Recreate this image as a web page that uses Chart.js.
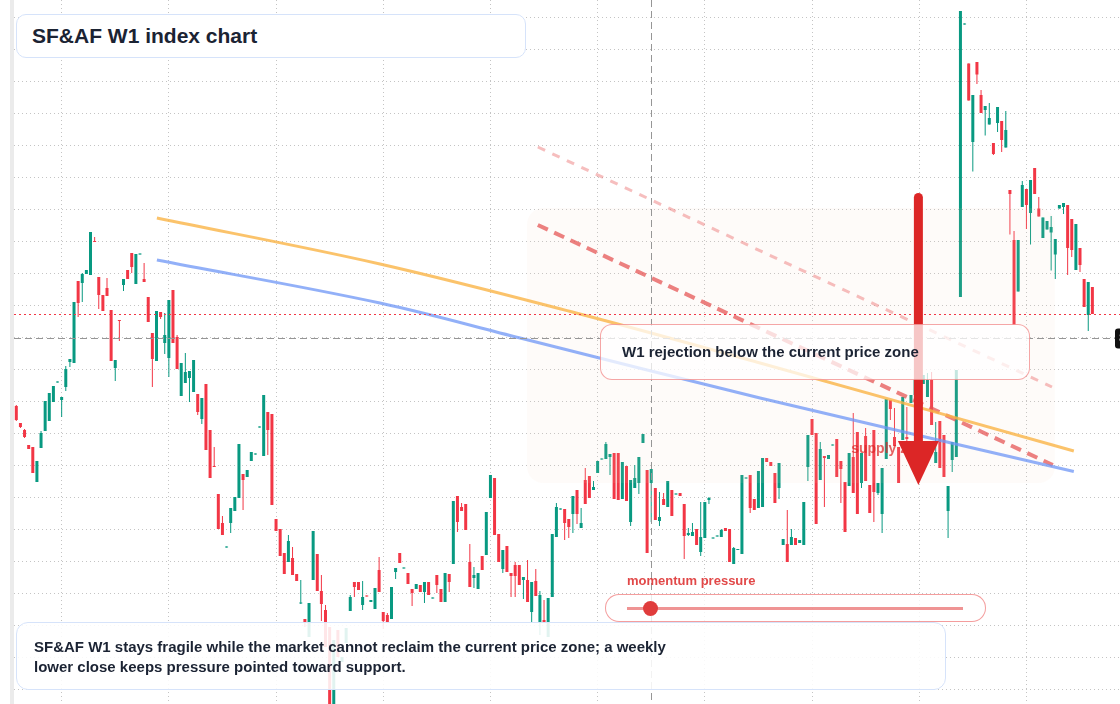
<!DOCTYPE html>
<html lang="en">
<head>
<meta charset="UTF-8">
<title>SF&amp;AF W1 index chart</title>
<script src="https://cdn.jsdelivr.net/npm/chart.js@4"></script>
<style>
  html, body { margin: 0; padding: 0; background: #fff; overflow: hidden; }
  #wrap { position: relative; width: 1120px; height: 704px; font-family: "Liberation Sans", Arial, sans-serif; color: #1b2333; }
  #chart { position: absolute; left: 0; top: 0; }
  .box { position: absolute; box-sizing: border-box; font-weight: bold; }
  #title { left: 16px; top: 14px; width: 510px; height: 44px; border: 1.5px solid #d6e3fa; border-radius: 10px;
           background: #fff; font-size: 21px; line-height: 41px; padding-left: 15px; }
  #note { left: 600px; top: 324px; width: 430px; height: 56px; border: 1.5px solid rgba(236, 92, 92, 0.55); border-radius: 12px;
          background: rgba(255, 255, 255, 0.74); font-size: 15px; line-height: 53px; padding-left: 21px; }
  #caption { left: 16px; top: 622px; width: 930px; height: 68px; border: 1.5px solid #d6e3fa; border-radius: 12px;
             background: rgba(255, 255, 255, 0.88); font-size: 15px; line-height: 20px; padding: 14px 0 0 17px; }
  #momLabel { left: 627px; top: 573px; font-size: 13px; color: rgba(222, 52, 52, 0.9); }
  #momBox { left: 605px; top: 594px; width: 381px; height: 28px; border: 1.5px solid rgba(236, 92, 92, 0.6); border-radius: 14px;
            background: rgba(255, 255, 255, 0.8); }
  #momTrack { position: absolute; left: 21px; top: 11.5px; width: 336px; height: 3.5px; background: rgba(230, 90, 90, 0.65); }
  #momKnob { position: absolute; left: 37px; top: 5.5px; width: 15px; height: 15px; border-radius: 50%; background: #e03c3c; }
</style>
</head>
<body>
<div id="wrap">
  <canvas id="chart" width="1120" height="704"></canvas>
  <div class="box" id="title">SF&amp;AF W1 index chart</div>
  <div class="box" id="note">W1 rejection below the current price zone</div>
  <div class="box" id="momLabel">momentum pressure</div>
  <div class="box" id="momBox"><div id="momTrack"></div><div id="momKnob"></div></div>
  <div class="box" id="caption">SF&amp;AF W1 stays fragile while the market cannot reclaim the current price zone; a weekly<br>lower close keeps pressure pointed toward support.</div>
</div>

<script>
  // weekly candles, oldest first
  const open = [
    68.8, 65.4, 64.0, 61.0, 60.6, 53.6, 60.4, 63.8, 65.8, 69.6, 73.5, 70.0, 72.6, 77.6, 77.4, 93.8, 93.4, 95.2, 95.0, 101.8,
    94.6, 91.0, 92.4, 88.0, 76.4, 86.0, 93.0, 96.0, 99.4, 93.2, 99.1, 94.2, 90.6, 83.4, 77.8, 87.6, 81.4, 78.4, 92.0, 82.6,
    70.8, 73.4, 74.4, 71.6, 71.2, 66.2, 73.2, 64.0, 56.8, 51.2, 45.4, 40.5, 45.4, 47.8, 50.4, 55.2, 54.6, 57.8, 59.1, 64.5,
    58.8, 67.6, 67.2, 46.2, 44.2, 39.4, 37.6, 38.4, 35.2, 29.3, 26.2, 22.6, 34.0, 39.2, 31.8, 28.0, 24.6, 7.6, 24.0, 17.6,
    21.4, 27.8, 33.6, 33.6, 29.0, 30.8, 29.6, 28.2, 36.0, 27.6, 27.0, 26.2, 35.6, 39.4, 36.3, 35.4, 32.2, 32.2, 33.0, 31.6,
    33.6, 30.3, 35.0, 32.2, 29.6, 35.2, 37.2, 50.8, 48.6, 49.2, 37.6, 34.4, 32.2, 38.8, 39.0, 50.4, 54.4, 43.2, 36.2, 40.8,
    35.4, 37.0, 37.0, 34.0, 34.0, 27.6, 33.8, 25.6, 26.0, 22.6, 30.6, 42.6, 48.1, 48.2, 46.2, 47.2, 52.0, 44.4, 54.0, 54.8,
    52.0, 55.4, 58.1, 58.2, 58.6, 59.4, 59.4, 50.2, 56.8, 45.6, 52.4, 53.4, 61.4, 56.0, 53.4, 52.4, 45.8, 50.2, 48.6, 52.0,
    51.1, 51.4, 49.2, 43.0, 42.8, 44.2, 39.6, 42.4, 50.0, 42.3, 42.7, 42.6, 44.4, 44.2, 37.2, 40.0, 39.2, 54.3, 55.0, 50.2,
    48.4, 48.6, 58.4, 57.6, 55.4, 52.4, 41.0, 41.2, 41.0, 42.4, 41.4, 41.0, 56.6, 66.2, 63.4, 54.0, 58.8, 58.2, 60.9, 62.2,
    57.8, 53.6, 52.8, 58.6, 63.6, 53.4, 62.8, 53.0, 64.0, 51.4, 47.2, 58.2, 70.0, 62.6, 60.6, 62.0, 62.6, 69.4, 71.0, 75.0,
    73.2, 70.6, 74.0, 57.4, 65.8, 63.0, 47.8, 58.0, 58.6, 90.6, 145.1, 137.3, 121.6, 137.6, 131.0, 128.0, 125.1, 121.4, 125.4, 125.8,
    120.5, 112.0, 102.0, 91.7, 108.6, 112.2, 107.4, 116.4, 108.3, 102.4, 104.1, 103.5, 99.1, 108.3, 108.6, 109.0, 106.2, 96.0, 100.4, 94.2,
    87.0, 92.6
  ];
  const high = [
    69.0, 65.4, 64.2, 61.0, 60.6, 57.8, 63.8, 69.8, 71.4, 72.8, 73.6, 70.6, 76.8, 78.2, 89.6, 93.8, 95.4, 96.0, 103.6, 102.6,
    94.6, 91.0, 94.4, 88.0, 78.0, 86.0, 94.2, 96.0, 99.4, 99.2, 99.2, 97.4, 90.6, 83.4, 87.8, 87.6, 87.4, 90.0, 92.0, 83.0,
    77.4, 79.4, 75.8, 78.0, 71.2, 70.4, 73.2, 64.0, 60.6, 51.2, 46.8, 40.6, 48.4, 50.6, 61.2, 55.2, 56.0, 59.6, 59.2, 64.6,
    71.0, 67.6, 67.2, 46.2, 44.2, 39.4, 43.0, 40.6, 35.2, 34.0, 26.2, 29.4, 43.8, 39.2, 35.0, 29.0, 24.6, 22.0, 24.0, 18.6,
    24.4, 31.0, 33.6, 33.6, 33.8, 30.8, 30.0, 32.4, 38.6, 27.6, 27.4, 32.6, 36.4, 39.4, 36.4, 35.4, 32.2, 33.2, 33.0, 33.6,
    33.6, 30.4, 35.0, 32.2, 35.4, 35.2, 49.8, 50.8, 49.4, 49.2, 41.2, 36.6, 35.4, 38.8, 47.6, 55.0, 54.4, 43.2, 40.0, 40.8,
    35.4, 37.6, 37.0, 34.6, 38.0, 33.6, 36.2, 31.8, 30.0, 30.4, 43.2, 49.4, 48.2, 48.2, 46.2, 50.8, 52.0, 48.4, 56.4, 54.8,
    53.8, 57.8, 58.2, 61.6, 59.2, 59.4, 59.4, 57.6, 56.8, 54.0, 57.0, 58.6, 63.2, 56.0, 56.2, 52.4, 51.6, 51.4, 53.8, 52.0,
    51.2, 51.4, 49.2, 44.4, 45.4, 44.2, 49.6, 49.6, 50.6, 42.4, 42.8, 44.2, 44.4, 44.2, 40.6, 40.2, 55.0, 54.4, 55.0, 50.2,
    55.8, 58.4, 58.4, 57.6, 55.4, 57.4, 42.2, 48.0, 44.2, 42.4, 42.0, 49.6, 63.0, 66.2, 63.4, 61.6, 58.8, 59.0, 61.0, 62.2,
    57.8, 53.6, 59.4, 67.4, 63.6, 59.4, 64.4, 53.0, 64.0, 53.4, 56.4, 70.2, 70.0, 68.4, 60.6, 70.6, 68.6, 71.0, 74.0, 75.6,
    75.0, 75.4, 75.6, 65.6, 65.8, 63.0, 52.8, 61.6, 76.0, 147.8, 145.2, 137.3, 131.0, 137.6, 132.0, 128.8, 129.4, 121.4, 128.6, 125.8,
    127.8, 112.0, 103.8, 102.0, 113.8, 112.2, 114.0, 116.4, 110.6, 106.5, 105.8, 106.8, 102.2, 109.0, 109.4, 109.0, 106.2, 105.2, 100.4, 94.2,
    93.6, 92.6
  ];
  const low = [
    65.8, 64.4, 62.4, 60.2, 55.4, 53.6, 60.4, 63.8, 65.8, 69.6, 73.5, 66.6, 71.8, 76.6, 77.4, 86.6, 89.6, 95.2, 95.0, 101.6,
    88.2, 87.8, 90.8, 77.8, 73.8, 81.8, 91.8, 94.2, 95.4, 93.2, 99.1, 93.6, 85.6, 72.6, 77.8, 86.2, 79.2, 74.6, 81.4, 76.2,
    70.8, 73.4, 69.6, 71.6, 67.0, 65.2, 60.0, 54.4, 56.6, 44.2, 43.0, 40.5, 43.4, 47.8, 50.4, 48.0, 54.6, 57.8, 59.1, 64.5,
    58.8, 59.0, 49.0, 43.8, 38.8, 35.2, 37.6, 35.0, 33.8, 29.2, 24.6, 22.6, 34.0, 31.8, 25.8, 20.6, 7.0, 7.0, 18.6, 17.6,
    21.4, 27.8, 30.6, 32.0, 28.0, 30.7, 29.6, 28.2, 31.6, 24.2, 25.6, 26.2, 34.2, 37.4, 36.3, 33.2, 28.8, 32.2, 31.6, 29.4,
    31.0, 30.3, 31.4, 29.6, 29.6, 31.6, 37.2, 43.6, 47.8, 44.0, 32.6, 32.4, 32.2, 36.0, 39.0, 50.4, 43.0, 37.6, 35.4, 35.6,
    30.6, 30.6, 33.0, 30.2, 29.6, 25.6, 30.8, 23.0, 25.4, 22.6, 30.6, 42.6, 48.1, 42.0, 42.4, 43.4, 45.2, 44.4, 49.2, 50.4,
    52.0, 55.4, 58.1, 58.2, 55.0, 50.2, 50.0, 50.2, 49.8, 44.8, 52.4, 51.2, 61.4, 39.4, 45.6, 46.0, 44.8, 49.0, 48.6, 46.8,
    51.1, 50.8, 38.2, 42.8, 42.8, 41.0, 38.8, 42.4, 49.2, 42.3, 42.7, 42.6, 43.8, 37.6, 37.2, 40.0, 39.2, 54.3, 47.4, 48.0,
    48.4, 48.6, 57.6, 56.8, 49.4, 50.2, 41.0, 37.6, 41.0, 41.0, 41.4, 41.0, 53.8, 63.0, 45.2, 54.0, 48.6, 58.2, 60.9, 54.6,
    49.4, 43.6, 52.8, 51.4, 47.2, 52.4, 53.8, 47.4, 45.6, 51.0, 43.4, 58.2, 66.0, 60.8, 53.4, 62.0, 58.4, 69.4, 70.0, 72.0,
    73.2, 70.6, 65.0, 57.4, 56.4, 54.6, 42.4, 55.6, 58.6, 90.6, 145.1, 129.9, 115.7, 133.2, 127.4, 122.9, 125.1, 119.0, 123.6, 119.6,
    120.5, 103.1, 85.0, 91.7, 108.6, 104.2, 101.1, 111.2, 106.7, 102.4, 104.1, 95.9, 94.2, 108.3, 107.2, 95.0, 98.6, 96.0, 95.6, 88.6,
    83.8, 87.2
  ];
  const close = [
    66.0, 64.6, 62.6, 60.2, 55.4, 57.8, 63.4, 69.8, 71.4, 72.8, 73.6, 70.6, 76.2, 78.2, 89.6, 89.4, 95.2, 96.0, 103.6, 101.6,
    91.0, 87.8, 90.8, 77.8, 78.0, 85.8, 94.2, 94.2, 96.6, 99.2, 99.2, 93.6, 85.6, 78.2, 87.8, 86.6, 83.0, 90.0, 81.4, 76.2,
    77.4, 75.6, 75.8, 78.0, 67.6, 70.4, 60.0, 54.4, 56.6, 44.2, 43.0, 40.6, 48.4, 50.6, 61.2, 54.0, 56.0, 59.6, 59.2, 64.6,
    71.0, 64.0, 49.0, 43.8, 38.8, 35.2, 41.8, 35.0, 33.8, 29.4, 25.6, 29.4, 43.8, 31.8, 29.2, 20.6, 8.0, 22.0, 18.6, 18.6,
    24.4, 30.6, 32.6, 32.0, 30.6, 30.7, 30.0, 32.4, 31.6, 25.8, 25.6, 32.6, 36.4, 37.4, 36.4, 33.2, 31.4, 33.2, 31.6, 33.6,
    31.0, 30.4, 33.0, 29.6, 35.4, 33.6, 49.8, 45.6, 47.8, 44.0, 32.6, 35.0, 35.4, 36.0, 47.6, 55.0, 43.0, 37.6, 40.0, 35.6,
    34.8, 34.8, 33.0, 34.6, 29.6, 33.6, 30.8, 31.0, 25.4, 30.4, 43.2, 48.6, 48.2, 45.4, 44.6, 50.8, 47.2, 45.4, 49.2, 50.4,
    52.6, 57.8, 58.2, 61.2, 59.2, 50.2, 50.0, 57.6, 49.8, 54.0, 54.4, 58.6, 63.2, 39.4, 56.2, 46.0, 46.6, 49.0, 53.8, 46.8,
    51.2, 50.8, 42.8, 43.4, 43.6, 41.0, 42.6, 49.6, 50.4, 42.4, 42.8, 44.0, 43.8, 37.6, 40.4, 40.2, 55.0, 54.4, 48.4, 48.0,
    55.8, 58.4, 57.6, 56.8, 49.4, 57.4, 42.2, 37.6, 42.6, 41.0, 42.0, 49.6, 63.0, 63.0, 45.2, 60.2, 58.4, 59.0, 61.0, 54.6,
    56.2, 43.6, 59.4, 51.4, 47.2, 59.4, 53.8, 47.4, 51.6, 53.4, 56.4, 70.2, 68.2, 60.8, 53.4, 70.6, 62.2, 71.0, 74.0, 72.0,
    75.0, 74.0, 65.0, 59.6, 56.4, 54.6, 52.8, 61.6, 76.0, 147.8, 145.2, 129.9, 131.0, 135.1, 127.4, 128.8, 126.4, 119.2, 128.6, 122.0,
    124.0, 111.2, 85.0, 102.0, 113.0, 109.0, 114.0, 111.2, 106.7, 106.5, 105.8, 104.6, 102.2, 109.0, 109.4, 100.4, 100.0, 105.2, 97.0, 88.6,
    93.6, 87.2
  ];

  // overlay studies, as [week, price] points
  const upperTrend = [[34.1, 106.4], [88.2, 97.2], [136.7, 87.2], [180.4, 77.4], [256.5, 59.8]];
  const lowerTrend = [[34.1, 98.0], [88.2, 89.4], [122.2, 82.4], [180.4, 70.4], [256.5, 55.7]];
  const rejectLine = [[126.5, 105.0], [251.4, 57.0]];
  const rejectEcho = [[126.5, 120.6], [251.2, 72.6]];

  // levels and zones
  const supplyZone = { from: 123.9, to: 251.9, top: 108.4, bottom: 53.4 };
  const arrowWeek = 218.8, arrowFrom = 111.4, arrowHead = 61.8, arrowTip = 53.0;
  const crossWeek = 154, crossPrice = 82.4;
  const lastClose = close[close.length - 1];

  // grid positions (half-year week marks, price steps)
  const gridWeeks = [24, 50, 76, 102, 128, 154, 180, 206, 232, 258];
  const gridPrices = [146.5, 140.1, 133.7, 127.3, 120.9, 114.5, 108.1, 101.7, 95.3, 88.9, 82.5,
                      76.1, 69.7, 63.3, 56.9, 50.5, 44.1, 37.7, 31.3, 24.9, 18.5, 12.1];

  const UP = '#089981', DOWN = '#f23645';
  const weeks = open.map((_, i) => i);
  const candleColor = c => close[c.dataIndex] >= open[c.dataIndex] ? UP : DOWN;
  const pts = arr => arr.map(p => ({ x: p[0], y: p[1] }));

  const overlays = {
    id: 'overlays',
    beforeDraw(c) {
      const g = c.ctx;
      g.save();
      g.fillStyle = '#ebebeb';
      g.fillRect(10, 0, 4, c.height);
      g.restore();
    },
    afterDatasetDraw(c, args) {
      if (c.data.datasets[args.index].label !== 'body') return;
      const x = c.scales.x, y = c.scales.y, g = c.ctx;
      const x0 = x.getPixelForValue(supplyZone.from), x1 = x.getPixelForValue(supplyZone.to);
      const y0 = y.getPixelForValue(supplyZone.top), y1 = y.getPixelForValue(supplyZone.bottom);
      g.save();
      g.fillStyle = 'rgba(240, 215, 190, 0.09)';
      g.beginPath();
      g.roundRect(x0, y0, x1 - x0, y1 - y0, 16);
      g.fill();
      g.restore();
    },
    afterDatasetsDraw(c) {
      const x = c.scales.x, y = c.scales.y, g = c.ctx, a = c.chartArea;
      g.save();
      // last close
      let py = Math.round(y.getPixelForValue(lastClose)) + 0.5;
      g.strokeStyle = DOWN; g.lineWidth = 1; g.setLineDash([2, 3]);
      g.beginPath(); g.moveTo(a.left, py); g.lineTo(a.right, py); g.stroke();
      // crosshair
      const cx = Math.round(x.getPixelForValue(crossWeek)) + 0.5;
      const cy = Math.round(y.getPixelForValue(crossPrice)) + 0.5;
      g.strokeStyle = '#969696'; g.setLineDash([7, 4]);
      g.beginPath(); g.moveTo(a.left, cy); g.lineTo(a.right, cy); g.stroke();
      g.beginPath(); g.moveTo(cx, a.top); g.lineTo(cx, a.bottom); g.stroke();
      g.setLineDash([]);
      g.fillStyle = '#111';
      g.beginPath(); g.roundRect(1115, cy - 10, 60, 20, 3); g.fill();
      g.fillStyle = '#fff'; g.font = '12px "Liberation Sans", Arial, sans-serif'; g.textBaseline = 'middle';
      g.fillText(crossPrice.toFixed(2), 1119, cy);
      // supply zone tag
      g.fillStyle = 'rgba(220, 38, 38, 0.72)';
      g.font = 'bold 14px "Liberation Sans", Arial, sans-serif';
      g.fillText('supply zone', x.getPixelForValue(202.5), y.getPixelForValue(60.2));
      // arrow
      const ax = x.getPixelForValue(arrowWeek);
      const aTop = y.getPixelForValue(arrowFrom), aBase = y.getPixelForValue(arrowHead), aTip = y.getPixelForValue(arrowTip);
      g.strokeStyle = '#dc2626'; g.fillStyle = '#dc2626'; g.lineWidth = 9; g.lineCap = 'round';
      g.beginPath(); g.moveTo(ax, aTop + 4.5); g.lineTo(ax, aBase + 2); g.stroke();
      g.beginPath(); g.moveTo(ax - 20.5, aBase); g.lineTo(ax + 20.5, aBase); g.lineTo(ax, aTip); g.closePath(); g.fill();
      g.restore();
    }
  };

  const gridStyle = { color: '#c4c4c4', lineWidth: 1, drawTicks: false };
  const gridBorder = { display: false, dash: [1, 3] };

  new Chart(document.getElementById('chart'), {
    type: 'bar',
    data: {
      datasets: [
        { type: 'line', label: 'upper trend', data: pts(upperTrend), borderColor: 'rgba(250, 180, 70, 0.8)', borderWidth: 3,
          pointRadius: 0, tension: 0.35, order: 0 },
        { type: 'line', label: 'lower trend', data: pts(lowerTrend), borderColor: 'rgba(110, 150, 245, 0.75)', borderWidth: 3,
          pointRadius: 0, tension: 0.35, order: 0 },
        { type: 'line', label: 'rejection', data: pts(rejectLine), borderColor: 'rgba(228, 80, 80, 0.72)', borderWidth: 4,
          borderDash: [11, 7], pointRadius: 0, order: 0 },
        { type: 'line', label: 'rejection echo', data: pts(rejectEcho), borderColor: 'rgba(236, 110, 110, 0.45)', borderWidth: 3,
          borderDash: [8, 8], pointRadius: 0, order: 0 },
        { label: 'body', data: weeks.map(i => ({ x: i, y: [open[i], close[i]] })), backgroundColor: candleColor,
          barThickness: 3, minBarLength: 1, grouped: false, inflateAmount: 0, order: 1 },
        { label: 'wick', data: weeks.map(i => ({ x: i, y: [low[i], high[i]] })), backgroundColor: candleColor,
          barThickness: 1, minBarLength: 1, grouped: false, inflateAmount: 0, order: 2 }
      ]
    },
    options: {
      responsive: false,
      animation: false,
      devicePixelRatio: 1,
      layout: { padding: { left: 14, right: 0, top: 0, bottom: 0 } },
      plugins: { legend: { display: false }, tooltip: { enabled: false } },
      scales: {
        x: {
          type: 'linear', min: -0.558, max: 267.7, offset: false,
          ticks: { display: false }, grid: gridStyle, border: gridBorder,
          afterBuildTicks: s => { s.ticks = gridWeeks.map(v => ({ value: v })); },
          afterFit: s => { s.height = 0; }
        },
        y: {
          min: 9.2, max: 150,
          ticks: { display: false }, grid: gridStyle, border: gridBorder,
          afterBuildTicks: s => { s.ticks = gridPrices.map(v => ({ value: v })); },
          afterFit: s => { s.width = 0; }
        }
      }
    },
    plugins: [overlays]
  });
</script>
</body>
</html>
